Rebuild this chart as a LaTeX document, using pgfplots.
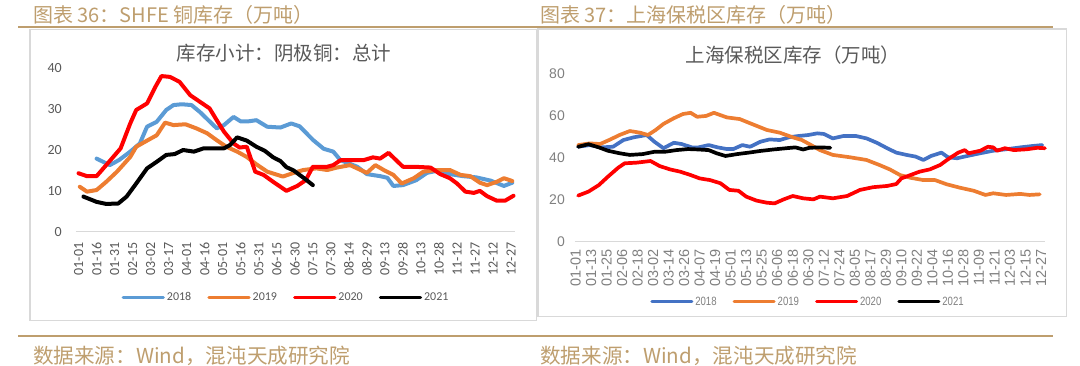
\documentclass[border=0pt]{standalone}
\usepackage{fontspec}
\usepackage{pgfplots}
\pgfplotsset{compat=1.18}
\setmainfont{Carlito}
\newfontfamily\cjk{Noto Sans CJK SC}
\newfontfamily\arial{Liberation Sans}
\newfontfamily\arialn[FakeStretch=0.8]{Liberation Sans}
\definecolor{gold}{RGB}{190,158,110}
\definecolor{framegray}{RGB}{217,217,217}
\definecolor{textgray}{RGB}{89,89,89}
\definecolor{tickgray}{RGB}{128,128,128}
\definecolor{blueL}{RGB}{91,155,213}
\definecolor{blueR}{RGB}{68,114,196}
\definecolor{orangeC}{RGB}{237,125,49}
\definecolor{redC}{RGB}{255,0,0}
\begin{document}
\begin{tikzpicture}
\path[use as bounding box] (0pt,0pt) rectangle (1080pt,365pt);
% frames
\draw[framegray, line width=1.2pt] (30pt,44.3pt) rectangle (536.7pt,335.5pt);
\draw[framegray, line width=1.2pt] (538pt,48.3pt) rectangle (1066.7pt,336pt);
% header / footer lines
\draw[gold, line width=1.6pt] (18pt,338pt) -- (1053pt,338pt);
\draw[gold, line width=1.6pt] (18pt,29pt) -- (1053pt,29pt);
\node[anchor=west, text=gold, font=\cjk\fontsize{20}{21}\selectfont, inner sep=0pt] at (33pt,350.5pt) {图表 36：SHFE 铜库存（万吨）};
\node[anchor=west, text=gold, font=\cjk\fontsize{20}{21}\selectfont, inner sep=0pt] at (540pt,350.5pt) {图表 37：上海保税区库存（万吨）};
\node[anchor=west, text=gold, font=\cjk\fontsize{20.6}{21}\selectfont, inner sep=0pt] at (33pt,9pt) {数据来源：Wind，混沌天成研究院};
\node[anchor=west, text=gold, font=\cjk\fontsize{20.6}{21}\selectfont, inner sep=0pt] at (540pt,9pt) {数据来源：Wind，混沌天成研究院};
% titles
\node[text=textgray, font=\cjk\fontsize{19.5}{20}\selectfont, inner sep=0pt] at (284pt,312pt) {库存小计：阴极铜：总计};
\node[text=textgray, font=\cjk\fontsize{19.5}{20}\selectfont, inner sep=0pt] at (793pt,310pt) {上海保税区库存（万吨）};

% ---------- left axis ----------
\begin{axis}[
  at={(75.8pt,133.3pt)}, anchor=south west, scale only axis,
  width=438.9pt, height=163.4pt,
  xmin=-2.3, xmax=363, ymin=0, ymax=40, clip=false,
  axis line style={draw=none}, major tick length=0pt,
  /pgf/number format/assume math mode=true,
  ytick={0,10,20,30,40},
  xtick={0,15,...,360},
  xticklabels={01-01,01-16,01-31,02-15,03-02,03-17,04-01,04-16,05-01,05-16,05-31,06-15,06-30,07-15,07-30,08-14,08-29,09-13,09-28,10-13,10-28,11-12,11-27,12-12,12-27},
  tick label style={font=\fontsize{14}{14}\selectfont, text=textgray, inner sep=0pt},
  x tick label style={rotate=90, anchor=east},
  y tick label style={anchor=east},
  xticklabel shift=10.7pt, yticklabel shift=13.8pt,
  every axis plot/.append style={line width=4pt, line join=round, line cap=round, no marks},
  legend style={at={(0.479,-0.403)}, anchor=center, draw=none, fill=none,
    font=\fontsize{12}{12}\selectfont, text=textgray, inner sep=0pt,
    /tikz/every even column/.append style={column sep=14pt}},
  legend columns=4,
  legend image code/.code={\draw[#1, line width=3.4pt, line cap=round] (0pt,0pt) -- (40pt,0pt);},
]
\draw[framegray, line width=1.3pt] (rel axis cs:0,0) -- (rel axis cs:1,0);
\addplot[blueL] coordinates {(15,17.9) (26,16.3) (34,17.6) (43,19.6) (51,21.6) (57,25.7) (65,26.9) (73,29.8) (79,31.0) (86,31.2) (94,31.0) (101,29.3) (108,27.3) (115,25.3) (121,26.1) (129,28.1) (135,27.0) (141,27.0) (148,27.3) (157,25.7) (168,25.5) (177,26.5) (184,25.8) (195,22.5) (204,20.3) (212,19.6) (218,17.5) (232,15.9) (240,14.1) (251,13.6) (257,13.2) (262,11.2) (270,11.4) (281,12.6) (290,14.4) (298,14.9) (309,14.1) (320,13.6) (331,13.3) (343,12.5) (354,11.2) (361,12.0)};
\addlegendentry{2018}
\addplot[orangeC] coordinates {(1,11.0) (7,9.8) (15,10.2) (23,12.2) (32,14.7) (43,18.3) (48,20.8) (57,22.3) (65,23.6) (72,26.7) (79,26.1) (89,26.3) (98,25.3) (107,24.1) (115,22.4) (123,20.8) (132,19.6) (140,18.3) (148,16.5) (157,14.7) (170,13.5) (179,14.4) (187,15.1) (198,15.5) (207,15.1) (215,15.7) (226,16.3) (240,14.4) (247,16.3) (254,15.1) (262,13.9) (269,11.8) (279,13.1) (287,14.7) (298,15.1) (309,15.1) (318,13.9) (326,13.6) (334,12.0) (340,11.4) (348,12.2) (354,13.1) (361,12.4)};
\addlegendentry{2019}
\addplot[redC] coordinates {(0,14.3) (7,13.6) (15,13.6) (23,16.3) (35,20.4) (43,26.5) (48,29.8) (57,31.4) (64,35.5) (69,38.1) (76,37.9) (84,36.7) (93,33.4) (101,31.8) (109,30.2) (115,27.3) (121,24.5) (129,21.6) (134,20.6) (140,20.8) (147,14.7) (154,13.9) (162,12.2) (173,10.0) (182,11.2) (189,12.6) (195,15.9) (207,15.9) (212,16.3) (218,17.5) (237,17.5) (245,18.2) (251,17.9) (258,19.3) (270,15.9) (279,15.9) (293,15.7) (301,14.1) (309,13.1) (315,11.8) (322,9.8) (329,9.5) (334,10.0) (340,8.7) (348,7.6) (355,7.6) (362,8.8)};
\addlegendentry{2020}
\addplot[black] coordinates {(4,8.6) (15,7.3) (23,6.8) (33,6.9) (40,8.6) (48,11.8) (57,15.5) (65,17.1) (73,18.8) (80,19.0) (87,20.0) (96,19.6) (104,20.4) (112,20.4) (121,20.4) (126,21.2) (132,23.1) (140,22.3) (148,20.8) (155,19.8) (162,18.2) (168,17.3) (173,15.8) (179,15.0) (184,13.9) (189,12.8) (195,11.4)};
\addlegendentry{2021}
\end{axis}

% ---------- right axis ----------
\begin{axis}[
  at={(574.9pt,123.3pt)}, anchor=south west, scale only axis,
  width=470pt, height=167.7pt,
  xmin=-0.5, xmax=363, ymin=0, ymax=80, clip=false,
  axis line style={draw=none}, major tick length=0pt,
  /pgf/number format/assume math mode=true,
  ytick={0,20,40,60,80},
  xtick={0,12,...,360},
  xticklabels={01-01,01-13,01-25,02-06,02-18,03-02,03-14,03-26,04-07,04-19,05-01,05-13,05-25,06-06,06-18,06-30,07-12,07-24,08-05,08-17,08-29,09-10,09-22,10-04,10-16,10-28,11-09,11-21,12-03,12-15,12-27},
  tick label style={text=tickgray, inner sep=0pt},
  x tick label style={rotate=90, anchor=east, font=\arial\fontsize{14.5}{14.5}\selectfont},
  y tick label style={anchor=east, font=\arial\fontsize{14}{14}\selectfont},
  xticklabel shift=7.3pt, yticklabel shift=9.9pt,
  every axis plot/.append style={line width=3.7pt, line join=round, line cap=round, no marks},
  legend style={at={(0.496,-0.358)}, anchor=center, draw=none, fill=none,
    font=\arialn\fontsize{12}{12}\selectfont, text=tickgray, inner sep=0pt,
    /tikz/every even column/.append style={column sep=14pt}},
  legend columns=4,
  legend image code/.code={\draw[#1, line width=3pt, line cap=round] (0pt,0pt) -- (40pt,0pt);},
]
\draw[framegray, line width=1.3pt] (rel axis cs:0,0) -- (rel axis cs:1,0);
\addplot[blueR] coordinates {(2,45.3) (11,46.1) (20,45.0) (29,45.3) (37,48.5) (45,49.8) (55,50.9) (61,47.7) (68,44.6) (76,47.2) (82,46.6) (90,45.0) (95,45.0) (103,46.1) (110,45.0) (117,44.2) (122,44.2) (129,46.1) (135,45.3) (143,47.7) (150,48.8) (158,48.5) (165,49.8) (172,50.4) (180,50.9) (187,51.7) (192,51.4) (199,49.3) (207,50.4) (217,50.4) (225,49.3) (233,47.2) (241,44.6) (248,42.5) (256,41.4) (263,40.6) (269,39.0) (275,40.9) (283,42.5) (288,40.3) (295,39.8) (303,40.9) (313,42.2) (323,43.4) (333,44.1) (344,45.0) (354,45.7) (361,46.1)};
\addlegendentry{2018}
\addplot[orangeC] coordinates {(2,46.1) (11,46.9) (19,46.6) (27,48.8) (34,50.9) (42,52.8) (50,52.0) (56,50.9) (62,53.3) (68,56.2) (76,58.9) (83,60.9) (89,61.5) (94,59.6) (101,60.0) (107,61.5) (117,59.3) (127,58.5) (135,56.5) (148,53.3) (158,52.0) (168,49.8) (175,48.5) (181,46.5) (189,43.7) (199,41.4) (212,40.3) (225,39.0) (235,36.6) (243,34.5) (251,31.8) (259,30.5) (269,29.4) (278,29.4) (287,27.4) (297,25.8) (308,24.3) (317,22.3) (323,23.1) (333,22.3) (344,22.8) (351,22.3) (359,22.6)};
\addlegendentry{2019}
\addplot[redC] coordinates {(2,22.0) (10,23.9) (18,27.0) (25,31.0) (33,35.3) (38,37.4) (47,37.7) (58,38.5) (65,36.1) (73,34.5) (81,33.4) (89,31.8) (96,30.2) (104,29.4) (112,27.9) (119,24.7) (126,24.3) (132,21.5) (140,19.6) (148,18.6) (154,18.3) (161,20.2) (168,21.8) (176,20.7) (184,20.2) (189,21.5) (199,20.7) (210,21.8) (220,24.7) (230,26.0) (241,26.6) (248,27.5) (252,30.2) (259,31.8) (266,33.4) (274,34.5) (282,36.6) (288,39.3) (296,42.5) (301,43.7) (304,42.2) (313,43.4) (319,45.3) (323,45.0) (326,43.4) (332,44.6) (339,43.7) (349,44.1) (357,44.8) (363,44.6)};
\addlegendentry{2020}
\addplot[black] coordinates {(2,45.3) (10,46.5) (18,45.0) (25,43.4) (34,42.2) (42,41.4) (52,41.8) (61,42.9) (69,42.9) (78,43.7) (87,44.2) (95,44.0) (103,43.7) (109,42.2) (116,40.9) (125,41.8) (134,42.5) (143,43.3) (153,44.0) (163,44.6) (170,45.0) (176,44.0) (181,44.8) (189,45.0) (197,44.8)};
\addlegendentry{2021}
\end{axis}
\end{tikzpicture}
\end{document}
